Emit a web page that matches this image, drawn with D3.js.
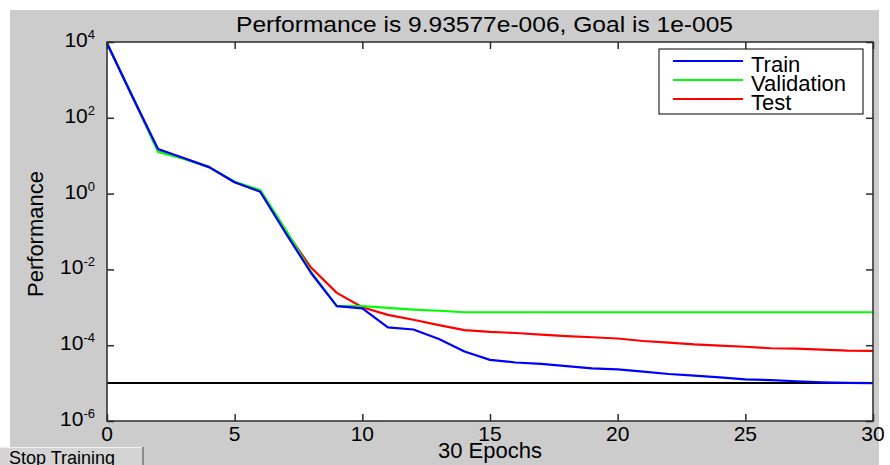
<!DOCTYPE html>
<html>
<head>
<meta charset="utf-8">
<script src="https://cdn.jsdelivr.net/npm/d3@7"></script>
<style>
  body { margin: 0; background: #fff; }
  text { font-family: "Liberation Sans", Arial, sans-serif; fill: #000; }
</style>
</head>
<body>
<div id="mainGraphic"></div>
<script>
let svgWidth = 890
let svgHeight = 465

let epochs = [0, 1, 2, 3, 4, 5, 6, 7, 8, 9, 10, 11, 12, 13, 14, 15, 16, 17, 18, 19, 20, 21, 22, 23, 24, 25, 26, 27, 28, 29, 30]
let trainPerf = [9300, 355, 15, 8.7, 5.0, 2.0, 1.12, 0.091, 0.0079, 1.07e-3, 9.4e-4, 2.95e-4, 2.6e-4, 1.45e-4, 6.8e-5, 4.1e-5,
  3.5e-5, 3.2e-5, 2.8e-5, 2.45e-5, 2.3e-5, 2.0e-5, 1.74e-5, 1.58e-5, 1.41e-5, 1.26e-5, 1.2e-5, 1.12e-5, 1.05e-5, 1.01e-5, 9.93577e-6]
let validationPerf = [9300, 370, 12.6, 8.3, 5.0, 2.05, 1.25, 0.11, 0.0085, 1.07e-3, 1.07e-3, 9.6e-4, 8.7e-4, 8.1e-4, 7.4e-4, 7.4e-4,
  7.4e-4, 7.4e-4, 7.4e-4, 7.4e-4, 7.4e-4, 7.4e-4, 7.4e-4, 7.4e-4, 7.4e-4, 7.4e-4, 7.4e-4, 7.4e-4, 7.4e-4, 7.4e-4, 7.4e-4]
let testPerf = [9300, 360, 13, 8.5, 5.0, 2.0, 1.15, 0.1, 0.011, 2.4e-3, 1.0e-3, 6.3e-4, 4.7e-4, 3.4e-4, 2.5e-4, 2.25e-4,
  2.1e-4, 1.9e-4, 1.74e-4, 1.62e-4, 1.5e-4, 1.29e-4, 1.17e-4, 1.05e-4, 9.8e-5, 9.1e-5, 8.3e-5, 8.1e-5, 7.6e-5, 7.2e-5, 7.1e-5]
let goalPerf = 1e-5

let xTicks = [0, 5, 10, 15, 20, 25, 30]
let yTickExponents = [4, 2, 0, -2, -4, -6]
let seriesNames = ["Train", "Validation", "Test"]
let seriesColors = ["#0000ff", "#00ff00", "#ff0000"]
let titleText = "Performance is 9.93577e-006, Goal is 1e-005"
let xLabel = "30 Epochs"
let yLabel = "Performance"
let buttonLabel = "Stop Training"

renderPerformance()

function renderPerformance() {
  let svg = d3.select("#mainGraphic")
    .append("svg")
      .attr("width", svgWidth)
      .attr("height", svgHeight)

  let plot = { left: 107, right: 873, top: 42, bottom: 421 }

  // figure background
  svg.append("rect")
    .attr("x", 10).attr("y", 10)
    .attr("width", 869).attr("height", svgHeight - 10)
    .attr("fill", "#cccccc")

  let x = d3.scaleLinear().domain([0, 30]).range([plot.left, plot.right])
  let y = d3.scaleLog().domain([1e-6, 1e4]).range([plot.bottom, plot.top])
  let yTicks = yTickExponents.map(e => Math.pow(10, e))

  svg.append("rect")
    .attr("x", plot.left).attr("y", plot.top)
    .attr("width", plot.right - plot.left).attr("height", plot.bottom - plot.top)
    .attr("fill", "#ffffff")

  // goal line
  svg.append("line")
    .attr("x1", x(0)).attr("x2", x(30))
    .attr("y1", y(goalPerf)).attr("y2", y(goalPerf))
    .attr("stroke", "#000").attr("stroke-width", 2)

  let line = d3.line()
    .x((d, i) => x(epochs[i]))
    .y(d => y(d))

  let seriesData = [trainPerf, validationPerf, testPerf]
  // test first, train on top
  ;[2, 1, 0].forEach(function(k) {
    svg.append("path")
      .datum(seriesData[k])
      .attr("d", line)
      .attr("fill", "none")
      .attr("stroke", seriesColors[k])
      .attr("stroke-width", 2.2)
      .attr("stroke-linejoin", "round")
  })

  // axes with inward ticks on all four sides
  let axisStyle = g => {
    g.select(".domain").remove()
    g.selectAll("line").attr("stroke", "#2b2b2b").attr("stroke-width", 1.5)
  }
  svg.append("g").attr("transform", `translate(0,${plot.bottom})`)
    .call(d3.axisBottom(x).tickValues(xTicks).tickSize(-7).tickFormat("")).call(axisStyle)
  svg.append("g").attr("transform", `translate(0,${plot.top})`)
    .call(d3.axisTop(x).tickValues(xTicks).tickSize(-7).tickFormat("")).call(axisStyle)
  svg.append("g").attr("transform", `translate(${plot.left},0)`)
    .call(d3.axisLeft(y).tickValues(yTicks).tickSize(-7).tickFormat("")).call(axisStyle)
  svg.append("g").attr("transform", `translate(${plot.right},0)`)
    .call(d3.axisRight(y).tickValues(yTicks).tickSize(-7).tickFormat("")).call(axisStyle)

  svg.append("rect")
    .attr("x", plot.left).attr("y", plot.top)
    .attr("width", plot.right - plot.left).attr("height", plot.bottom - plot.top)
    .attr("fill", "none")
    .attr("stroke", "#2b2b2b").attr("stroke-width", 1.5)

  // x tick labels
  svg.append("g").selectAll("text")
    .data(xTicks)
    .enter()
    .append("text")
      .attr("x", d => x(d))
      .attr("y", 440.5)
      .attr("text-anchor", "middle")
      .style("font-size", "21px")
      .text(d => d)

  // y tick labels 10^n
  let yLab = svg.append("g").selectAll("text")
    .data(yTickExponents)
    .enter()
    .append("text")
      .attr("x", 95)
      .attr("y", d => y(Math.pow(10, d)) + 5)
      .attr("text-anchor", "end")
      .style("font-size", "21px")
  yLab.append("tspan").text("10")
  yLab.append("tspan")
    .attr("dy", -8)
    .style("font-size", "13px")
    .text(d => d < 0 ? "-" + Math.abs(d) : d)

  // title and axis labels
  svg.append("text")
    .attr("x", 236).attr("y", 32)
    .attr("textLength", 497)
    .attr("lengthAdjust", "spacingAndGlyphs")
    .style("font-size", "22px")
    .text(titleText)

  svg.append("text")
    .attr("x", (plot.left + plot.right) / 2)
    .attr("y", 458)
    .attr("text-anchor", "middle")
    .style("font-size", "22px")
    .text(xLabel)

  svg.append("text")
    .attr("transform", "translate(42.5,234) rotate(-90)")
    .attr("text-anchor", "middle")
    .style("font-size", "22px")
    .text(yLabel)

  // legend
  let legend = svg.append("g")
  legend.append("rect")
    .attr("x", 659).attr("y", 49)
    .attr("width", 204).attr("height", 65)
    .attr("fill", "#fff")
    .attr("stroke", "#000").attr("stroke-width", 1)
  seriesNames.forEach(function(name, i) {
    let ly = 61 + i * 19
    legend.append("line")
      .attr("x1", 673).attr("x2", 743)
      .attr("y1", ly).attr("y2", ly)
      .attr("stroke", seriesColors[i]).attr("stroke-width", 2)
    legend.append("text")
      .attr("x", 751).attr("y", ly + 11)
      .style("font-size", "22px")
      .text(name)
  })

  // stop training button
  svg.append("rect")
    .attr("x", 0).attr("y", 447)
    .attr("width", 143).attr("height", 20)
    .attr("fill", "#d4d4d4")
  svg.append("line")
    .attr("x1", 0).attr("x2", 143).attr("y1", 447.5).attr("y2", 447.5)
    .attr("stroke", "#f0f0f0").attr("stroke-width", 1)
  svg.append("line")
    .attr("x1", 143).attr("x2", 143).attr("y1", 447).attr("y2", 465)
    .attr("stroke", "#8a8a8a").attr("stroke-width", 2)
  svg.append("text")
    .attr("x", 9).attr("y", 463.5)
    .style("font-size", "18px")
    .text(buttonLabel)
}
</script>
</body>
</html>
